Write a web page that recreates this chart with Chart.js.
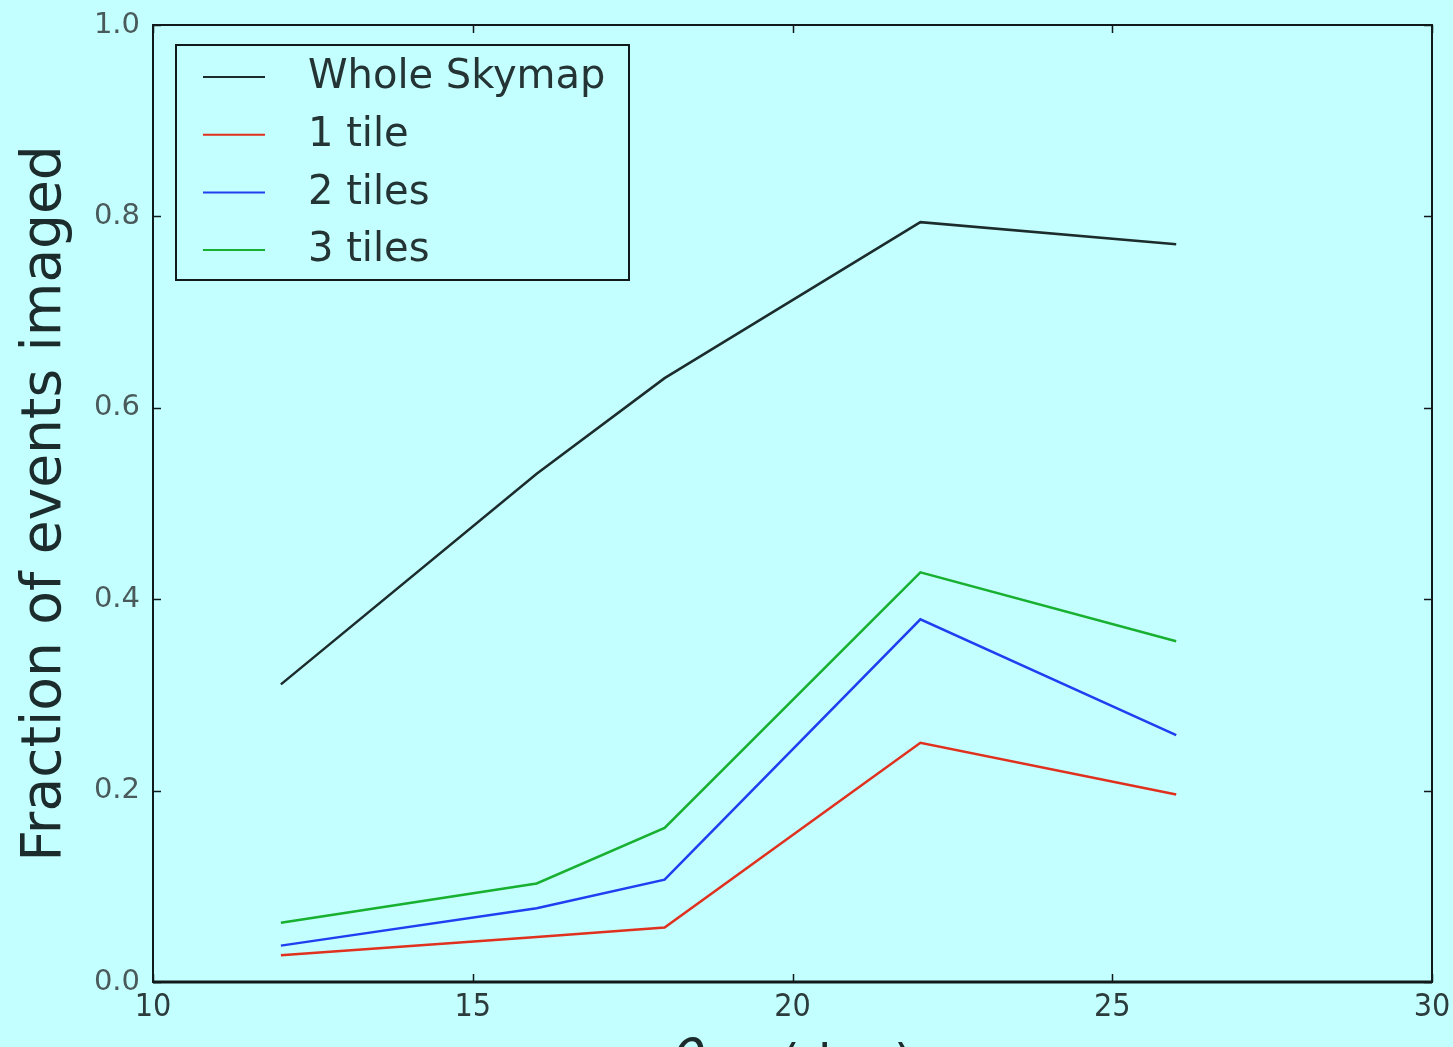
<!DOCTYPE html>
<html>
<head>
<meta charset="utf-8">
<script src="https://cdn.jsdelivr.net/npm/chart.js@4.4.1/dist/chart.umd.min.js"></script>
<style>
  html, body { margin: 0; padding: 0; background: #c4ffff; overflow: hidden; }
  #wrap { width: 1453px; height: 1047px; position: relative; }
  canvas { display: block; filter: blur(0.6px); }
</style>
</head>
<body>
<div id="wrap"><canvas id="chart" width="1453" height="1047"></canvas></div>
<script>
// Critical angle (deg) sampled in the study
const thetaCrit = [12, 16, 18, 22, 26];

// Fraction of events imaged for each strategy
const wholeSkymap = [0.311, 0.531, 0.631, 0.794, 0.771];
const oneTile     = [0.028, 0.047, 0.057, 0.250, 0.196];
const twoTiles    = [0.038, 0.077, 0.107, 0.379, 0.258];
const threeTiles  = [0.062, 0.103, 0.161, 0.428, 0.356];

const seriesLabels = ['Whole Skymap', '1 tile', '2 tiles', '3 tiles'];
const seriesColors = ['#1c2c2c', '#e0301e', '#1f3ff0', '#18b030'];

// Axis ticks
const xTicks = [10, 15, 20, 25, 30];
const yTicks = [0.0, 0.2, 0.4, 0.6, 0.8, 1.0];

const BG = '#c4ffff';
const FRAME = '#111a1a';

function toPoints(ys) {
  return thetaCrit.map((x, i) => ({ x: x, y: ys[i] }));
}

// Background, frame and inward tick marks on all four sides
const framePlugin = {
  id: 'frame',
  beforeDraw(chart) {
    const ctx = chart.ctx;
    ctx.save();
    ctx.fillStyle = BG;
    ctx.fillRect(0, 0, chart.width, chart.height);
    ctx.restore();
  },
  afterDatasetsDraw(chart) {
    const { ctx, chartArea: a, scales } = chart;
    const len = 8;
    ctx.save();
    ctx.strokeStyle = FRAME;
    ctx.lineWidth = 1.5;
    ctx.beginPath();
    xTicks.forEach(v => {
      const px = Math.round(scales.x.getPixelForValue(v)) + 0.5;
      ctx.moveTo(px, a.bottom); ctx.lineTo(px, a.bottom - len);
      ctx.moveTo(px, a.top); ctx.lineTo(px, a.top + len);
    });
    yTicks.forEach(v => {
      const py = Math.round(scales.y.getPixelForValue(v)) + 0.5;
      ctx.moveTo(a.left, py); ctx.lineTo(a.left + len, py);
      ctx.moveTo(a.right, py); ctx.lineTo(a.right - len, py);
    });
    ctx.stroke();
    ctx.lineWidth = 2;
    ctx.strokeRect(a.left, a.top, a.right - a.left, a.bottom - a.top);
    ctx.lineWidth = 3;
    ctx.beginPath();
    ctx.moveTo(a.left, a.bottom); ctx.lineTo(a.right, a.bottom);
    ctx.stroke();
    ctx.restore();
  }
};

// Legend box in the upper-left corner of the plotting area
const insideLegend = {
  id: 'insideLegend',
  afterDraw(chart) {
    const { ctx, chartArea: a } = chart;
    const bx = a.left + 23, by = a.top + 20, bw = 453, bh = 235;
    ctx.save();
    ctx.fillStyle = BG;
    ctx.fillRect(bx, by, bw, bh);
    ctx.strokeStyle = FRAME;
    ctx.lineWidth = 2;
    ctx.strokeRect(bx, by, bw, bh);
    ctx.font = '40px "DejaVu Sans"';
    ctx.textBaseline = 'middle';
    ctx.textAlign = 'left';
    chart.data.datasets.forEach((ds, i) => {
      const cy = by + 32 + i * 57.7;
      ctx.strokeStyle = ds.borderColor;
      ctx.lineWidth = 2;
      ctx.beginPath();
      ctx.moveTo(bx + 27, cy);
      ctx.lineTo(bx + 89, cy);
      ctx.stroke();
      ctx.fillStyle = '#243434';
      ctx.fillText(ds.label, bx + 132, cy + 1);
    });
    ctx.restore();
  }
};

// x-axis title with a subscripted theta
const xTitlePlugin = {
  id: 'xTitle',
  afterDraw(chart) {
    const { ctx, chartArea: a } = chart;
    const mainFont = 'italic 56px "DejaVu Sans"';
    const subFont = 'italic 36px "DejaVu Sans"';
    const tailFont = '50px "DejaVu Sans"';
    const parts = [
      { t: 'θ', f: mainFont, dy: 0 },
      { t: 'crit', f: subFont, dy: 12 },
      { t: ' (deg)', f: tailFont, dy: 0 }
    ];
    ctx.save();
    let total = 0;
    parts.forEach(p => { ctx.font = p.f; p.w = ctx.measureText(p.t).width; total += p.w; });
    let x = (a.left + a.right) / 2 - total / 2;
    const base = a.bottom + 98;
    ctx.fillStyle = '#1c2c2c';
    ctx.textBaseline = 'alphabetic';
    parts.forEach(p => {
      ctx.font = p.f;
      ctx.fillText(p.t, x, base + p.dy);
      x += p.w;
    });
    ctx.restore();
  }
};

const chart = new Chart(document.getElementById('chart'), {
  type: 'line',
  data: {
    datasets: [wholeSkymap, oneTile, twoTiles, threeTiles].map((ys, i) => ({
      label: seriesLabels[i],
      data: toPoints(ys),
      borderColor: seriesColors[i],
      backgroundColor: seriesColors[i],
      borderWidth: 2.5,
      pointRadius: 0,
      tension: 0,
      fill: false
    }))
  },
  options: {
    responsive: false,
    animation: false,
    events: [],
    layout: { padding: { left: 0, right: 21, top: 25, bottom: 0 } },
    plugins: {
      legend: { display: false },
      tooltip: { enabled: false }
    },
    scales: {
      x: {
        type: 'linear',
        min: 10, max: 30,
        afterFit(s) { s.height = 65; s.paddingLeft = 0; s.paddingRight = 0; },
        afterBuildTicks(s) { s.ticks = xTicks.map(v => ({ value: v })); },
        grid: { display: false, drawTicks: false },
        border: { display: false },
        ticks: {
          padding: 6,
          color: '#2c3c3c',
          font: { family: '"DejaVu Sans Condensed", "DejaVu Sans"', size: 32 },
          callback: v => String(v)
        }
      },
      y: {
        min: 0, max: 1,
        afterFit(s) { s.width = 153; s.paddingTop = 0; s.paddingBottom = 0; },
        afterBuildTicks(s) { s.ticks = yTicks.map(v => ({ value: v })); },
        grid: { display: false, drawTicks: false },
        border: { display: false },
        ticks: {
          padding: 13,
          color: '#4a5a5a',
          font: { family: '"DejaVu Sans"', size: 29 },
          callback: v => Number(v).toFixed(1)
        },
        title: {
          display: true,
          text: 'Fraction of events imaged',
          color: '#1c2c2c',
          font: { family: '"DejaVu Sans"', size: 55 },
          padding: { top: 13, bottom: 0 }
        }
      }
    }
  },
  plugins: [framePlugin, insideLegend, xTitlePlugin]
});
</script>
</body>
</html>
